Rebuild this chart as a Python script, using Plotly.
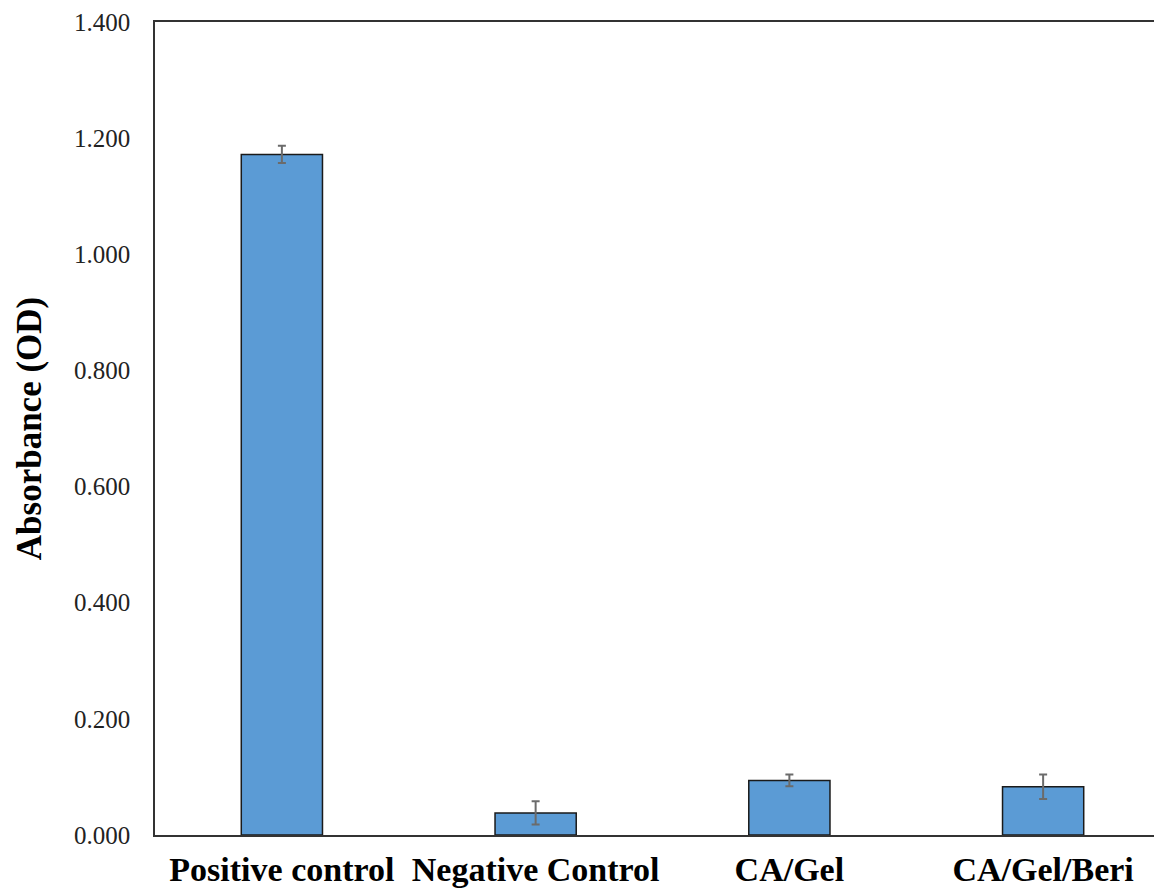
import plotly.graph_objects as go

categories = ["Positive control", "Negative Control", "CA/Gel", "CA/Gel/Beri"]
absorbance = [1.172, 0.038, 0.094, 0.083]
error = [0.015, 0.020, 0.010, 0.021]
y_ticks = [0.0, 0.2, 0.4, 0.6, 0.8, 1.0, 1.2, 1.4]

fig = go.Figure()
fig.add_trace(go.Bar(
    x=categories,
    y=absorbance,
    marker=dict(color="#5B9BD5", line=dict(color="#1a1a1a", width=1.5)),
    error_y=dict(type="data", array=error, visible=True, color="#6b6b6b", thickness=2, width=4),
))

font_family = "Liberation Serif, Times New Roman, serif"
fig.update_layout(
    width=1162, height=884,
    margin=dict(l=147, r=0, t=14, b=57, autoexpand=False),
    plot_bgcolor="white", paper_bgcolor="white",
    bargap=0.68,
    showlegend=False,
    font=dict(family=font_family, color="black"),
)
fig.update_xaxes(
    showline=True, linecolor="#333333", linewidth=1.5, mirror=True,
    ticks="", showgrid=False, automargin=False,
    tickfont=dict(family=font_family, size=34, color="black", weight="bold"),
    ticklabelstandoff=3,
)
fig.update_yaxes(
    range=[0, 1.4], tickvals=y_ticks, tickformat=".3f",
    showline=True, linecolor="#333333", linewidth=1.5,
    ticks="", showgrid=False, zeroline=False, automargin=False,
    tickfont=dict(family=font_family, size=25, color="#222222"),
    ticklabelstandoff=18,
    title=dict(text="<b>Absorbance (OD)</b>", font=dict(family=font_family, size=35, color="black"), standoff=22),
)
fig.write_html("out.html")
